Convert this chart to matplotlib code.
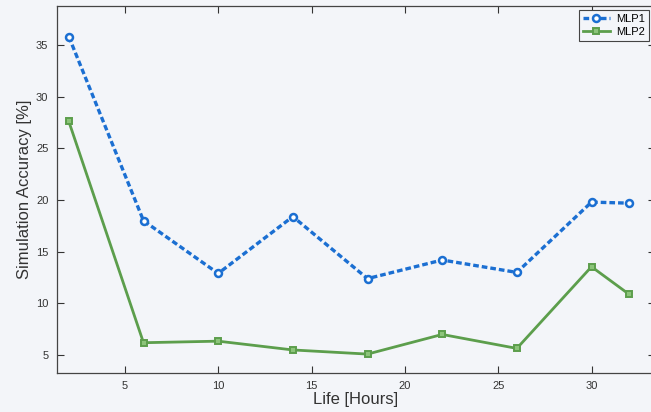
import matplotlib
matplotlib.use("Agg")
import matplotlib.pyplot as plt

plt.rcParams['font.family'] = ['Liberation Sans', 'DejaVu Sans']

life = [2, 6, 10, 14, 18, 22, 26, 30, 32]
mlp1 = [35.8, 18.0, 12.9, 18.4, 12.4, 14.2, 13.0, 19.8, 19.7]
mlp2 = [27.6, 6.2, 6.35, 5.5, 5.1, 7.0, 5.65, 13.55, 10.9]
xticks = [5, 10, 15, 20, 25, 30]
yticks = [5, 10, 15, 20, 25, 30, 35]

bg = '#f3f5f9'
fig = plt.figure(figsize=(6.51, 4.12), dpi=100, facecolor=bg)
ax = fig.add_axes([0.0871, 0.0954, 0.919, 0.8908], facecolor=bg)

ax.plot(life, mlp1, '--o', color='#1b6fd2', lw=2.4, ms=5,
        mfc='white', mec='#1b6fd2', mew=1.8, dashes=(1.7, 0.9), label='MLP1')
ax.plot(life, mlp2, '-s', color='#5c9e4c', lw=2.0, ms=4.5,
        mfc='#8cc47a', mec='#5c9e4c', mew=1.4, label='MLP2')

ax.set_xlim(1.35, 33.4)
ax.set_ylim(3.3, 38.8)
ax.set_xticks(xticks)
ax.set_yticks(yticks)
ax.tick_params(direction='in', length=5, width=0.8, top=True, right=True,
               labelsize=8, colors='#333333', pad=6)
for s in ax.spines.values():
    s.set_color('#444444')
    s.set_linewidth(0.9)

ax.set_xlabel('Life [Hours]', fontsize=12, color='#333333', labelpad=1)
ax.set_ylabel('Simulation Accuracy [%]', fontsize=12, color='#333333', labelpad=3)

leg = ax.legend(loc='upper right', bbox_to_anchor=(649 / 651, 402 / 412),
                bbox_transform=fig.transFigure, fontsize=8, fancybox=False,
                borderaxespad=0, handlelength=2.4, labelspacing=0.25,
                borderpad=0.35, handletextpad=0.6)
leg.get_frame().set_edgecolor('#444444')
leg.get_frame().set_linewidth(0.8)
leg.get_frame().set_facecolor(bg)
leg.get_frame().set_alpha(1)

fig.savefig('out.png', dpi=100, facecolor=bg)
